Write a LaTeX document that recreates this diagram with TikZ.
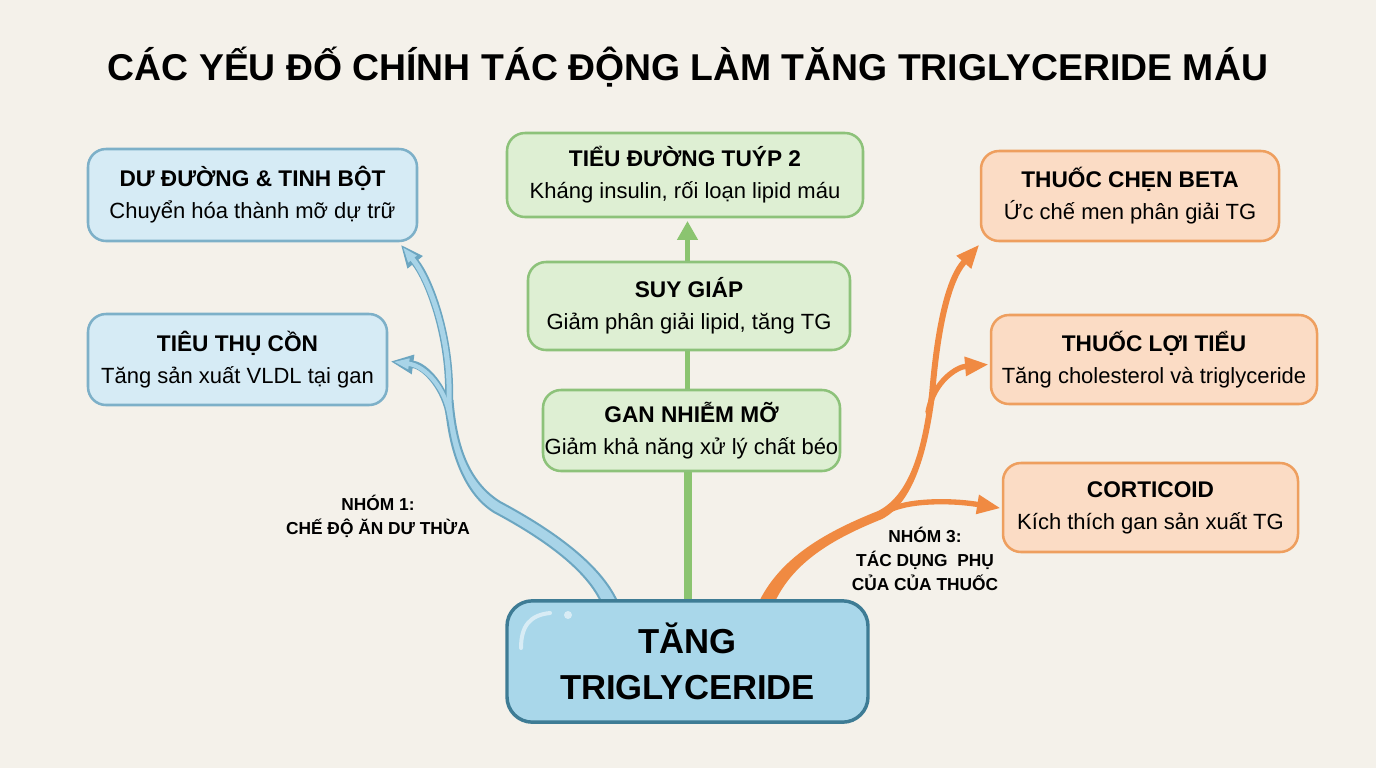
\documentclass[tikz,border=0pt]{standalone}
\usepackage{fontspec}
\setmainfont{Liberation Sans}
\usetikzlibrary{arrows.meta,calc}
\definecolor{bgc}{HTML}{F4F1EA}
\definecolor{blueFill}{HTML}{D6EBF5}
\definecolor{blueDraw}{HTML}{7DB0C8}
\definecolor{greenFill}{HTML}{DEEFD3}
\definecolor{greenDraw}{HTML}{8DC27A}
\definecolor{orangeFill}{HTML}{FBDCC5}
\definecolor{orangeDraw}{HTML}{EE9F5F}
\definecolor{ctrFill}{HTML}{A9D7EA}
\definecolor{ctrDraw}{HTML}{3E7C95}
\definecolor{bArrDark}{HTML}{6CA6C1}
\definecolor{bArrLight}{HTML}{A8D4E8}
\definecolor{gArr}{HTML}{8BC470}
\definecolor{oArr}{HTML}{F08A42}
\pgfdeclarelayer{back}
\pgfsetlayers{back,main}
\begin{document}
\begin{tikzpicture}[x=0.75pt,y=-0.75pt,
  box/.style={rounded corners=13.5pt, line width=1.9pt, align=center, inner sep=0pt,
    font=\fontsize{16.5}{24}\selectfont, text=black},
  bbox/.style={box, draw=blueDraw, fill=blueFill},
  gbox/.style={box, draw=greenDraw, fill=greenFill},
  obox/.style={box, draw=orangeDraw, fill=orangeFill},
  cbox/.style={rounded corners=19pt, line width=2.6pt, align=center, inner sep=0pt,
    draw=ctrDraw, fill=ctrFill, font=\fontsize{26}{34}\selectfont\bfseries},
  lbl/.style={font=\fontsize{13}{18}\selectfont\bfseries, align=center},
  bout/.style={draw=bArrDark, line cap=round},
  bin/.style={draw=bArrLight, line cap=round},
  otip/.style={-{Triangle[length=17pt,width=15pt,line width=0pt]}},
  bouttip/.style={-{Triangle[length=16.5pt,width=15pt,line width=0pt]}},
  bintip/.style={-{Triangle[length=11pt,width=8.5pt,line width=0pt]}, shorten >=2.4pt}
]
\begin{pgfonlayer}{back}
\fill[bgc] (0,0) rectangle (1376,768);
\end{pgfonlayer}
\useasboundingbox (0,0) rectangle (1376,768);

\node[anchor=base, font=\fontsize{28}{32}\selectfont\bfseries] (title) at (688,80)
  {CÁC YẾU ĐỐ CHÍNH TÁC ĐỘNG LÀM TĂNG TRIGLYCERIDE MÁU};

% boxes
\node[bbox, minimum width=246.75pt, minimum height=69pt] (du) at (252.5,195)
  {{\fontsize{17}{24}\selectfont\bfseries DƯ ĐƯỜNG \& TINH BỘT}\\Chuyển hóa thành mỡ dự trữ};
\node[bbox, minimum width=224.25pt, minimum height=68.25pt] (ruou) at (237.5,359.5)
  {{\fontsize{17}{24}\selectfont\bfseries TIÊU THỤ CỒN}\\Tăng sản xuất VLDL tại gan};
\node[gbox, minimum width=267pt, minimum height=63pt] (tieu) at (685,175)
  {{\fontsize{17}{24}\selectfont\bfseries TIỂU ĐƯỜNG TUÝP 2}\\Kháng insulin, rối loạn lipid máu};
\node[gbox, minimum width=241.5pt, minimum height=66pt] (suy) at (689,306)
  {{\fontsize{17}{24}\selectfont\bfseries SUY GIÁP}\\Giảm phân giải lipid, tăng TG};
\node[gbox, minimum width=222.75pt, minimum height=60.75pt] (gan) at (691.5,430.5)
  {{\fontsize{17}{24}\selectfont\bfseries GAN NHIỄM MỠ}\\Giảm khả năng xử lý chất béo};
\node[obox, minimum width=223.5pt, minimum height=67.5pt] (beta) at (1130,196)
  {{\fontsize{17}{24}\selectfont\bfseries THUỐC CHẸN BETA}\\Ức chế men phân giải TG};
\node[obox, minimum width=244.5pt, minimum height=66.75pt] (loi) at (1154,359.5)
  {{\fontsize{17}{24}\selectfont\bfseries THUỐC LỢI TIỂU}\\Tăng cholesterol và triglyceride};
\node[obox, minimum width=221.25pt, minimum height=66.75pt] (cort) at (1150.5,507.5)
  {{\fontsize{17}{24}\selectfont\bfseries CORTICOID}\\Kích thích gan sản xuất TG};
\node[cbox, minimum width=270.75pt, minimum height=91pt] (ctr) at (687.5,661.5)
  {TĂNG\\TRIGLYCERIDE};

% highlight on centre box
\draw[white, opacity=0.55, line width=3pt, line cap=round]
  (521,648) .. controls (521,626) and (530,615) .. (550,613);
\fill[white, opacity=0.55] (568,615) circle (4);

% labels
\node[lbl] (n1) at (378,516) {NHÓM 1:\\CHẾ ĐỘ ĂN DƯ THỪA};
\node[lbl] (n3) at (925,559) {NHÓM 3:\\TÁC DỤNG\ \ PHỤ\\CỦA CỦA THUỐC};

% connectors
\begin{pgfonlayer}{back}
% ---- blue group ----
\coordinate (bJ) at (449,400);
\coordinate (bK) at (450,418);
\coordinate (duTip) at ($(du.south east)+(-17,3)$);
\coordinate (ruTip) at ($(ruou.east)+(3,2)$);
% branch outlines
\draw[bout, line width=6pt, bouttip] (bJ) .. controls (451,335) and (428,278) .. (duTip);
\draw[bout, line width=5.5pt, bouttip] (bK) .. controls (446,388) and (425,366) .. (ruTip);
% tapered stem
\fill[bArrLight] (603,606) .. controls (588,568) and (537,535) .. (494,512)
   .. controls (462,492) and (448,445) .. (445.5,400)
   -- (452.5,400) .. controls (456,445) and (468,482) .. (500,502)
   .. controls (543,525) and (602,562) .. (619,606) -- cycle;
\draw[bArrDark, line width=1.5pt] (603,606) .. controls (588,568) and (537,535) .. (494,512)
   .. controls (462,492) and (448,445) .. (445.5,400);
\draw[bArrDark, line width=1.5pt] (452.5,400) .. controls (456,445) and (468,482) .. (500,502)
   .. controls (543,525) and (602,562) .. (619,606);
% branch fills
\draw[bin, line width=3.75pt, bintip] (bJ) .. controls (451,335) and (428,278) .. (duTip);
\draw[bin, line width=3.25pt, bintip] (bK) .. controls (446,388) and (425,366) .. (ruTip);

% ---- green group ----
\draw[gArr, line width=6pt] ($(ctr.north)+(0,4)$) -- (ctr.north |- gan.south);
\draw[gArr, line width=4pt] (ctr.north |- gan.north) -- (ctr.north |- suy.south);
\draw[gArr, line width=4pt, -{Triangle[length=14pt,width=16pt,line width=0pt]}]
  (ctr.north |- suy.north) -- ($(ctr.north |- tieu.south)+(0,3)$);

% ---- orange group ----
\coordinate (oJ) at (932,395);
\coordinate (betaTip) at ($(beta.south west)+(-1,3)$);
\coordinate (loiTip) at ($(loi.west)+(-2,5)$);
\coordinate (cortTip) at ($(cort.west)+(-2,0.5)$);
\fill[oArr] (757,606) .. controls (778.7,556.9) and (828.2,530.9) .. (878.2,510.9)
   .. controls (913.2,492.9) and (923,439.6) .. (929,394.6)
   -- (935,395.4) .. controls (929,440.4) and (916.9,501.1) .. (881.9,519.1)
   .. controls (831.9,539.1) and (791.3,563.1) .. (773,606) -- cycle;
\draw[oArr, line width=4.5pt, line cap=round, otip] (oJ)
   .. controls (938,320) and (950,278) .. (betaTip);
\draw[oArr, line width=4pt, line cap=round, otip] (886,512) .. controls (905,500) and (950,500) .. (cortTip);
\draw[oArr, line width=4pt, line cap=round, otip] (928,412) .. controls (934,380) and (958,367) .. (loiTip);
\end{pgfonlayer}
\end{tikzpicture}
\end{document}
